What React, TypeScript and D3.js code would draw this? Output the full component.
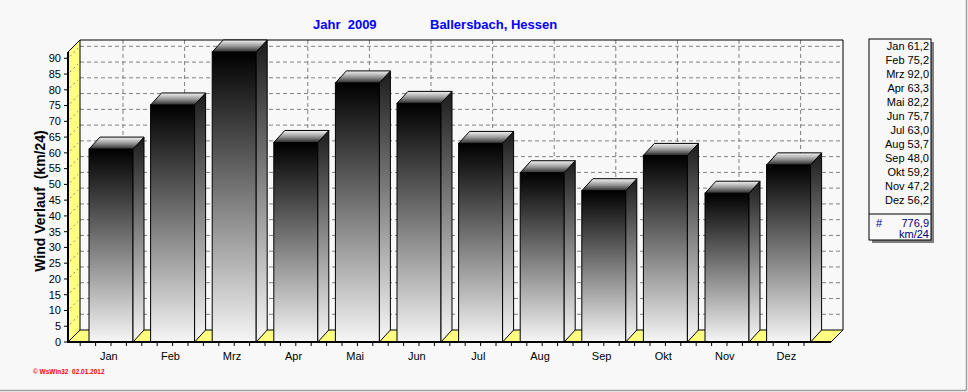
import React from 'react';
import * as d3 from 'd3';

const months = ['Jan', 'Feb', 'Mrz', 'Apr', 'Mai', 'Jun', 'Jul', 'Aug', 'Sep', 'Okt', 'Nov', 'Dez'];
const wind = [61.2, 75.2, 92.0, 63.3, 82.2, 75.7, 63.0, 53.7, 48.0, 59.2, 47.2, 56.2];
const yTicks = [0, 5, 10, 15, 20, 25, 30, 35, 40, 45, 50, 55, 60, 65, 70, 75, 80, 85, 90];
const total = 776.9;

const W = 968;
const H = 392;
const fmt = (v: number) => v.toFixed(1).replace('.', ',');

const App = () => {
  // front plane of the 3d plot
  const left = 68, right = 831, base = 342;
  const dx = 12, dy = 12; // wall depth
  const bdx = 11; // bar depth x
  const y = d3.scaleLinear().domain([0, 92]).range([base, 52]);
  const x = d3.scaleBand().domain(months).range([78, 817.2]);
  const step = x.step();
  const barW = 44;
  const barOff = 11;

  const bottomTicks: number[] = [];
  months.forEach(m => {
    const c = (x(m) as number) + barOff + barW / 2;
    for (let k = -2; k <= 1; k++) bottomTicks.push(c + k * step / 4);
  });

  const font = 'Arial, "Liberation Sans", sans-serif';

  return (
    <svg width={W} height={H} style={{ position: 'absolute', left: 0, top: 0, background: '#f8f8f8' }} fontFamily={font}>
      <defs>
        <linearGradient id="front" x1="0" y1="0" x2="0" y2="1">
          <stop offset="0" stopColor="#000" />
          <stop offset="1" stopColor="#f6f6f6" />
        </linearGradient>
        <linearGradient id="side" x1="0" y1="0" x2="0" y2="1">
          <stop offset="0" stopColor="#1c1c1c" />
          <stop offset="1" stopColor="#f8f8f8" />
        </linearGradient>
        <linearGradient id="top" x1="0" y1="1" x2="0" y2="0">
          <stop offset="0" stopColor="#2a2a2a" />
          <stop offset="0.5" stopColor="#9a9a9a" />
          <stop offset="1" stopColor="#f4f4f4" />
        </linearGradient>
      </defs>
      <rect width={W} height={H} fill="#f8f8f8" />
      {/* frame */}
      <line x1={0} x2={967} y1={390.5} y2={390.5} stroke="#a0a0a0" strokeWidth={1.5} />
      <line x1={966.5} x2={966.5} y1={0} y2={391} stroke="#a0a0a0" strokeWidth={1.5} />

      {/* title */}
      <text x={313} y={29} fontSize={13} fontWeight="bold" fill="#0000ff" style={{ whiteSpace: 'pre' }}>Jahr  2009</text>
      <text x={430} y={29} fontSize={13} fontWeight="bold" fill="#0000ff">Ballersbach, Hessen</text>

      {/* back wall */}
      <rect x={left + dx} y={y(92) - dy} width={right - left} height={base - y(92)} fill="#f8f8f8" />
      {yTicks.filter(t => t > 0).map(t => (
        <line key={'hg' + t} x1={left + dx} x2={right + dx} y1={y(t) - dy} y2={y(t) - dy}
          stroke="#808080" strokeDasharray="4,3" />
      ))}
      {months.map(m => {
        const gx = (x(m) as number) + barOff + barW / 2 + dx;
        return <line key={'vg' + m} x1={gx} x2={gx} y1={y(92) - dy} y2={base - dy}
          stroke="#808080" strokeDasharray="4,3" />;
      })}
      <line x1={left + dx} x2={right + dx} y1={y(92) - dy} y2={y(92) - dy} stroke="#000" />
      <line x1={right + dx} x2={right + dx} y1={y(92) - dy} y2={base - dy} stroke="#000" />

      {/* left wall */}
      <path d={`M${left},${y(92)}L${left + dx},${y(92) - dy}L${left + dx},${base - dy}L${left},${base}Z`}
        fill="#ffff80" stroke="#000" />
      {yTicks.filter(t => t > 0).map(t => (
        <line key={'lw' + t} x1={left + 2} x2={left + dx - 2} y1={y(t) - 2} y2={y(t) - dy + 2}
          stroke="#808080" strokeDasharray="2,3" />
      ))}

      {/* floor */}
      <path d={`M${left},${base}L${left + dx},${base - dy}L${right + dx},${base - dy}L${right},${base}Z`}
        fill="#ffff80" stroke="#000" />

      {/* bars */}
      {months.map((m, i) => {
        const x0 = (x(m) as number) + barOff;
        const x1 = x0 + barW;
        const yt = y(wind[i]);
        return (
          <g key={'bar' + m}>
            <rect x={x0} y={yt} width={barW} height={base - yt} fill="url(#front)" stroke="#000" />
            <path d={`M${x1},${yt}L${x1 + bdx},${yt - dy}L${x1 + bdx},${base - dy}L${x1},${base}Z`}
              fill="url(#side)" stroke="#000" />
            <path d={`M${x0},${yt}L${x0 + bdx},${yt - dy}L${x1 + bdx},${yt - dy}L${x1},${yt}Z`}
              fill="url(#top)" stroke="#000" />
          </g>
        );
      })}

      {/* axes */}
      <line x1={left} x2={left} y1={y(92)} y2={base + 1} stroke="#000" strokeWidth={2} />
      <line x1={left - 1} x2={right} y1={base} y2={base} stroke="#000" strokeWidth={2} />
      {yTicks.map(t => (
        <g key={'yt' + t}>
          <line x1={left - 4} x2={left} y1={y(t)} y2={y(t)} stroke="#000" />
          <text x={61} y={y(t)} dy="0.35em" textAnchor="end" fontSize={11} fill="#000">{t}</text>
        </g>
      ))}
      {bottomTicks.map((t, i) => (
        <line key={'bt' + i} x1={t} x2={t} y1={base + 1} y2={base + 4} stroke="#000" />
      ))}
      {months.map(m => (
        <text key={'xl' + m} x={(x(m) as number) + x.bandwidth() / 2} y={360} textAnchor="middle" fontSize={11} fill="#000">{m}</text>
      ))}
      <text transform={`translate(45, 201) rotate(-90)`} textAnchor="middle" fontSize={14} fontWeight="bold"
        fill="#000" style={{ whiteSpace: 'pre' }}>Wind Verlauf  (km/24)</text>

      {/* legend */}
      <rect x={872} y={42} width={62} height={201} fill="#808080" />
      <rect x={869} y={39} width={62} height={201} fill="#f8f8f8" stroke="#000" />
      {months.map((m, i) => (
        <text key={'lg' + m} x={929} y={50 + i * 14} textAnchor="end" fontSize={11} fill="#000"
          style={{ whiteSpace: 'pre' }}>{`${m} ${fmt(wind[i])}`}</text>
      ))}
      <line x1={869} x2={931} y1={214} y2={214} stroke="#000" />
      <text x={876} y={227} fontSize={11} fill="#000080">#</text>
      <text x={929} y={227} textAnchor="end" fontSize={11} fill="#000080">{fmt(total)}</text>
      <text x={929} y={238} textAnchor="end" fontSize={11} fill="#000080">km/24</text>

      {/* footer */}
      <text x={33} y={374} fontSize={6.5} fontWeight="bold" fill="#ff0000" style={{ whiteSpace: 'pre' }}>© WsWin32  02.01.2012</text>
    </svg>
  );
};

export default App;
